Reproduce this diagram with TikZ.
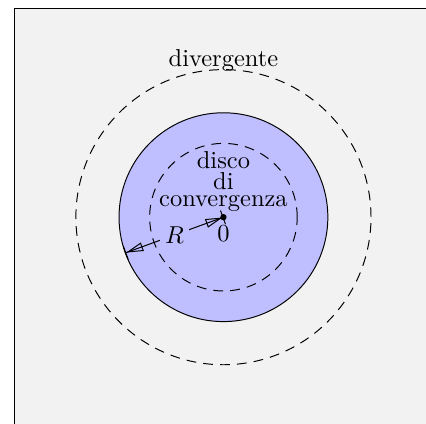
\documentclass[tikz,border=0pt]{standalone}
\usetikzlibrary{arrows.meta}
\begin{document}
\begin{tikzpicture}[
  dashcirc/.style={dash pattern=on 4pt off 2.9pt},
  radarrow/.style={{Bar[width=6pt]Triangle[open,length=7pt,width=3.6pt]}-{Triangle[open,length=7pt,width=3.6pt]Bar[width=6pt]}},
  lbl/.style={inner sep=0pt}
]
\useasboundingbox (-3.21,-2.96) rectangle (2.91,3.12);
\draw[fill=black!5] (-3,-3) rectangle (3,3);
\coordinate (O) at (0,0);
\coordinate (E) at (200:1.5);
\draw[dashcirc] (O) circle (2.12);
\draw[fill=blue!25] (O) circle (1.5);
\draw[dashcirc] (O) circle (1.06);
\draw[radarrow] (O) -- node[fill=blue!25, inner sep=2pt] (R) {$R$} (E);
\fill (O) circle (1.3pt);
\node[below] (zero) at (O) {$0$};
\node[lbl, anchor=base] (div) at (0,2.17) {divergente};
\node[lbl, align=center, anchor=north] (disco) at (0,0.95) {disco\\[-3.4pt]di\\[-5.2pt]convergenza};
\end{tikzpicture}
\end{document}
